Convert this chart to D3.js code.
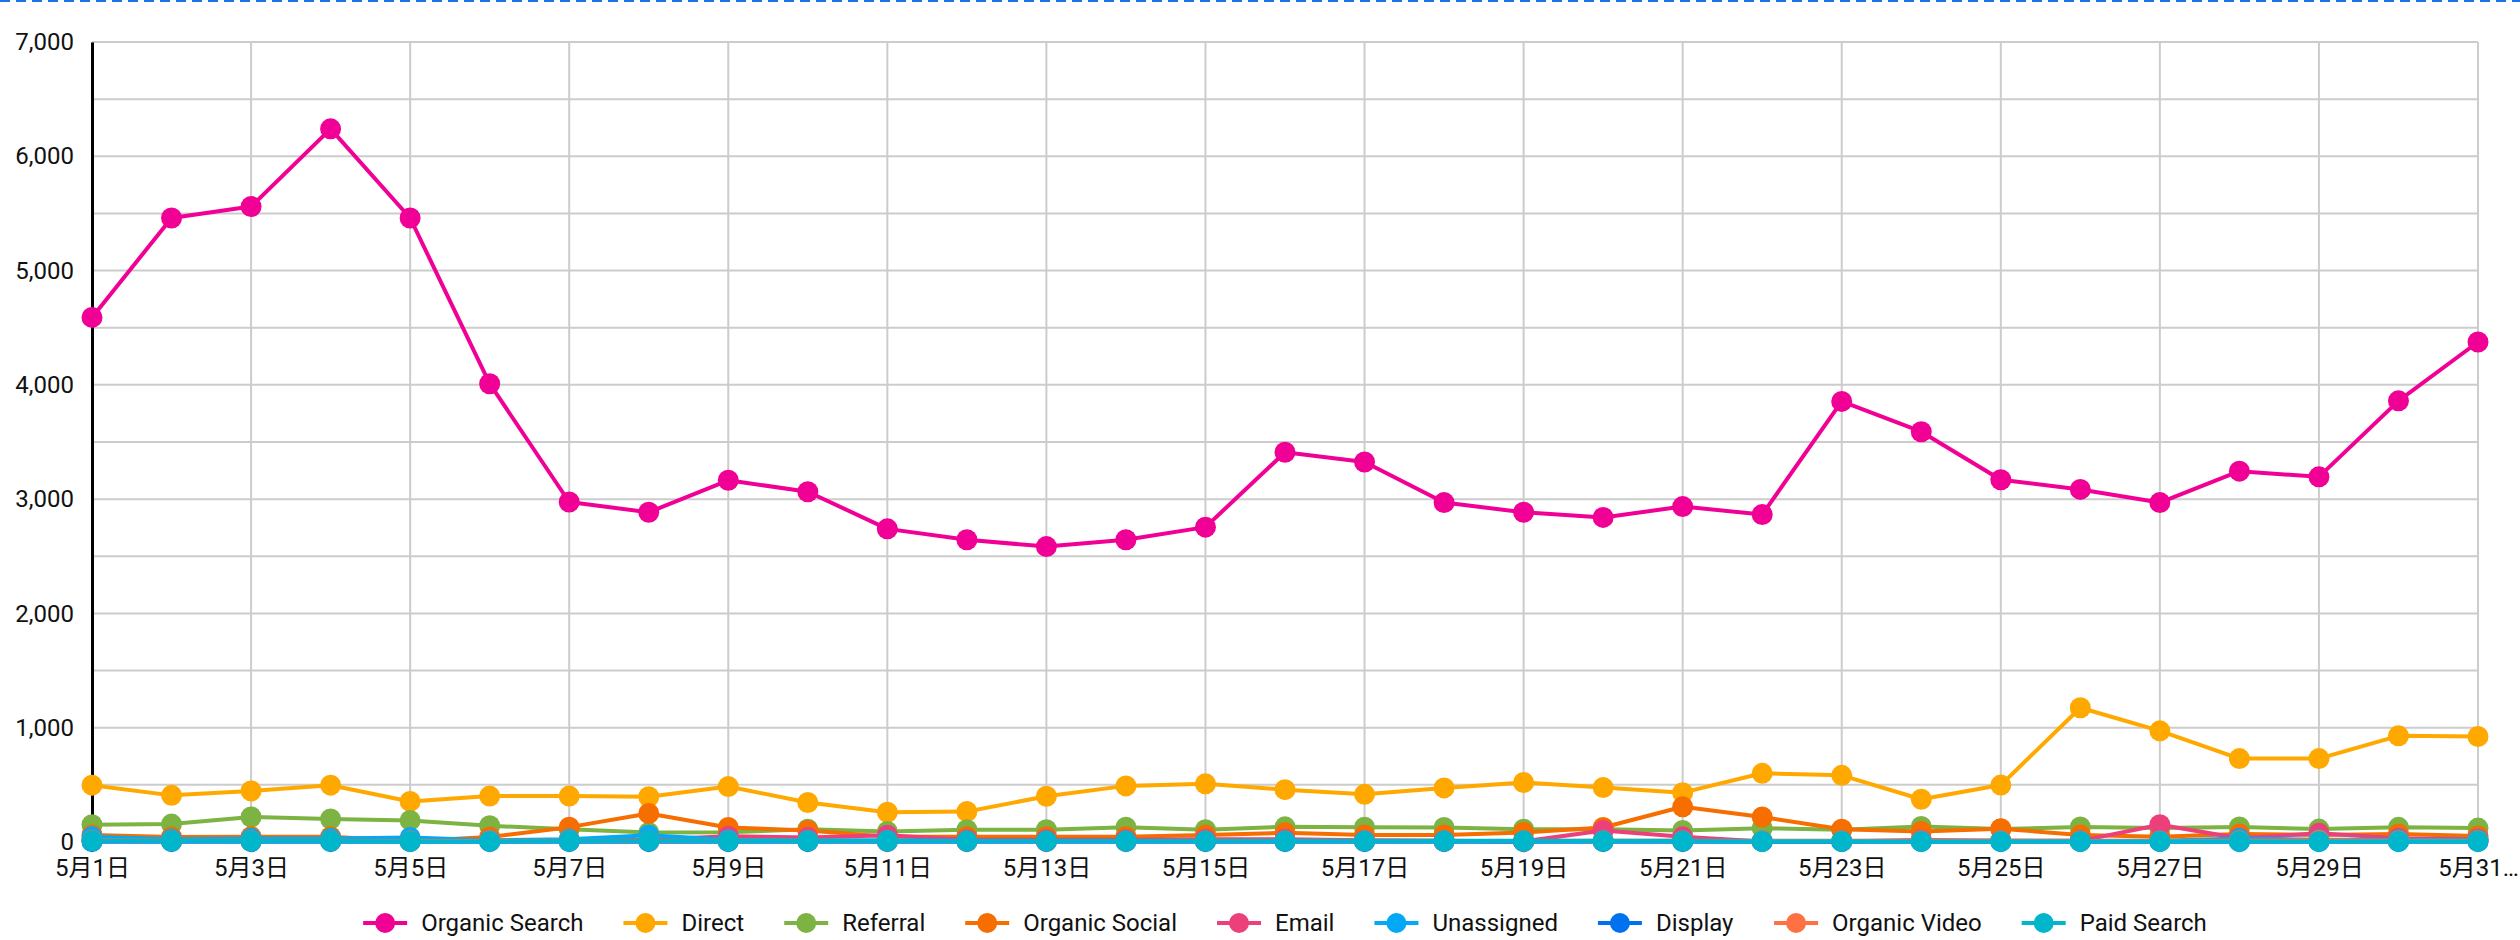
<!DOCTYPE html>
<html>
<head>
<meta charset="utf-8">
<script src="https://cdn.jsdelivr.net/npm/d3@7"></script>
<style>
    body { margin: 0; background: white; }
    text { font-family: Roboto, "Noto Sans CJK JP", sans-serif; }
</style>
</head>
<body>
<div id="graphContainer"></div>
<script>
const days = d3.range(1, 32).map(function (d) { return '5月' + d + '日'; });
const tickLabels = days.map(function (d, i) {
    if (i === 30) return '5月31…';
    return i % 2 === 0 ? d : '';
});
const yTicks = [0, 1000, 2000, 3000, 4000, 5000, 6000, 7000];

const organicSearch = [4590, 5460, 5560, 6240, 5460, 4010, 2975, 2885, 3165, 3065, 2740, 2645, 2585, 2645, 2755, 3410,
    3325, 2970, 2885, 2840, 2935, 2865, 3855, 3590, 3170, 3085, 2970, 3245, 3195, 3860, 4375];
const direct = [497, 408, 447, 497, 355, 402, 402, 396, 485, 346, 260, 266, 400, 491, 509, 458,
    417, 473, 521, 476, 432, 601, 583, 374, 498, 1175, 973, 730, 730, 929, 923];
const referral = [151, 157, 219, 201, 189, 142, 112, 83, 85, 112, 92, 107, 107, 130, 107, 133,
    130, 127, 112, 112, 101, 121, 107, 136, 113, 131, 122, 131, 113, 128, 122];
const organicSocial = [62, 44, 47, 47, 6, 44, 130, 249, 127, 101, 47, 47, 47, 47, 62, 80,
    62, 62, 83, 127, 308, 219, 112, 92, 116, 62, 47, 71, 62, 71, 53];
const email = [20, 15, 15, 15, 10, 10, 15, 20, 50, 40, 60, 20, 20, 20, 25, 25,
    15, 10, 5, 100, 45, 5, 5, 18, 12, 10, 151, 33, 77, 33, 24];
const unassigned = [45, 25, 30, 30, 40, 15, 25, 60, 20, 15, 15, 10, 10, 10, 10, 10,
    10, 10, 10, 10, 10, 10, 10, 10, 10, 10, 10, 30, 20, 20, 20];
const display = [3, 3, 3, 3, 3, 3, 3, 3, 3, 3, 3, 3, 3, 3, 3, 3,
    3, 3, 3, 3, 3, 3, 3, 3, 3, 3, 3, 3, 3, 3, 3];
const organicVideo = [15, 10, 10, 10, 8, 10, 10, 12, 10, 10, 8, 8, 8, 8, 10, 10,
    10, 8, 8, 10, 10, 8, 8, 10, 10, 8, 8, 12, 15, 12, 10];
const paidSearch = [10, 8, 8, 8, 5, 5, 8, 10, 8, 8, 8, 8, 8, 8, 8, 8,
    8, 8, 8, 8, 8, 5, 5, 5, 5, 5, 5, 5, 5, 5, 5];

const seriesNames = ['Organic Search', 'Direct', 'Referral', 'Organic Social', 'Email',
    'Unassigned', 'Display', 'Organic Video', 'Paid Search'];
const seriesValues = [organicSearch, direct, referral, organicSocial, email,
    unassigned, display, organicVideo, paidSearch];
const colors = ['#f10096', '#ffa800', '#7cb342', '#f66d00', '#ec407a',
    '#03a9f4', '#0072f0', '#ff7043', '#00b6cb'];

drawGraph();

function drawGraph() {
    const width = 2520;
    const height = 940;
    const left = 92, right = 2478, top = 42, bottom = 842;

    const svg = d3.select('#graphContainer')
        .append('svg')
        .attr('width', width)
        .attr('height', height)
        .style('display', 'block');

    // dashed selection border on top
    svg.append('line')
        .attr('x1', 0).attr('x2', width)
        .attr('y1', 1).attr('y2', 1)
        .attr('stroke', '#1a73e8')
        .attr('stroke-width', 2)
        .attr('stroke-dasharray', '10,6');

    const x = d3.scalePoint().domain(d3.range(days.length)).range([left, right]);
    const y = d3.scaleLinear().domain([0, 7000]).range([bottom, top]);

    // grid
    const grid = svg.append('g').attr('stroke', '#cccccc').attr('stroke-width', 2);
    grid.selectAll('.hgrid')
        .data(d3.range(500, 7001, 500))
        .enter()
        .append('line')
        .attr('x1', left).attr('x2', right)
        .attr('y1', function (d) { return y(d); })
        .attr('y2', function (d) { return y(d); });
    grid.selectAll('.vgrid')
        .data(d3.range(days.length).filter(function (i) { return i % 2 === 0; }))
        .enter()
        .append('line')
        .attr('x1', function (d) { return x(d); })
        .attr('x2', function (d) { return x(d); })
        .attr('y1', top).attr('y2', bottom);

    // y axis
    const yAxis = svg.append('g')
        .attr('transform', 'translate(' + left + ',0)')
        .call(d3.axisLeft(y).tickValues(yTicks).tickSize(0).tickPadding(18).tickFormat(d3.format(',')));
    yAxis.select('.domain').attr('stroke', '#000').attr('stroke-width', 3);
    yAxis.selectAll('text').style('font-size', '24px').attr('fill', '#111');

    // x axis
    const xAxis = svg.append('g')
        .attr('transform', 'translate(0,' + bottom + ')')
        .call(d3.axisBottom(x).tickSize(0).tickPadding(17).tickFormat(function (i) { return tickLabels[i]; }));
    xAxis.select('.domain').remove();
    xAxis.selectAll('text').style('font-size', '24px').attr('fill', '#111');

    const line = d3.line()
        .x(function (d, i) { return x(i); })
        .y(function (d) { return y(d); });

    const series = svg.append('g')
        .selectAll('g')
        .data(seriesValues)
        .enter()
        .append('g');

    series.append('path')
        .attr('d', function (d) { return line(d); })
        .attr('fill', 'none')
        .attr('stroke', function (d, i) { return colors[i]; })
        .attr('stroke-width', 4)
        .attr('stroke-linejoin', 'round');

    series.each(function (vals, si) {
        d3.select(this).selectAll('circle')
            .data(vals)
            .enter()
            .append('circle')
            .attr('cx', function (d, i) { return x(i); })
            .attr('cy', function (d) { return y(d); })
            .attr('r', 10.5)
            .attr('fill', colors[si]);
    });

    // legend
    const legendY = 923;
    const legend = svg.append('g');
    const items = legend.selectAll('g')
        .data(seriesNames)
        .enter()
        .append('g');
    items.append('line')
        .attr('x1', 0).attr('x2', 44)
        .attr('y1', 0).attr('y2', 0)
        .attr('stroke', function (d, i) { return colors[i]; })
        .attr('stroke-width', 4);
    items.append('circle')
        .attr('cx', 22).attr('cy', 0).attr('r', 10)
        .attr('fill', function (d, i) { return colors[i]; });
    items.append('text')
        .attr('x', 58)
        .attr('y', 0)
        .attr('dy', '0.35em')
        .style('font-size', '24px')
        .attr('fill', '#111')
        .text(function (d) { return d; });

    let offsets = [];
    let pos = 0;
    items.each(function () {
        offsets.push(pos);
        pos += this.getBBox().width + 40;
    });
    const total = pos - 40;
    const start = (left + right) / 2 - total / 2;
    items.attr('transform', function (d, i) {
        return 'translate(' + (start + offsets[i]) + ',' + legendY + ')';
    });
}
</script>
</body>
</html>
